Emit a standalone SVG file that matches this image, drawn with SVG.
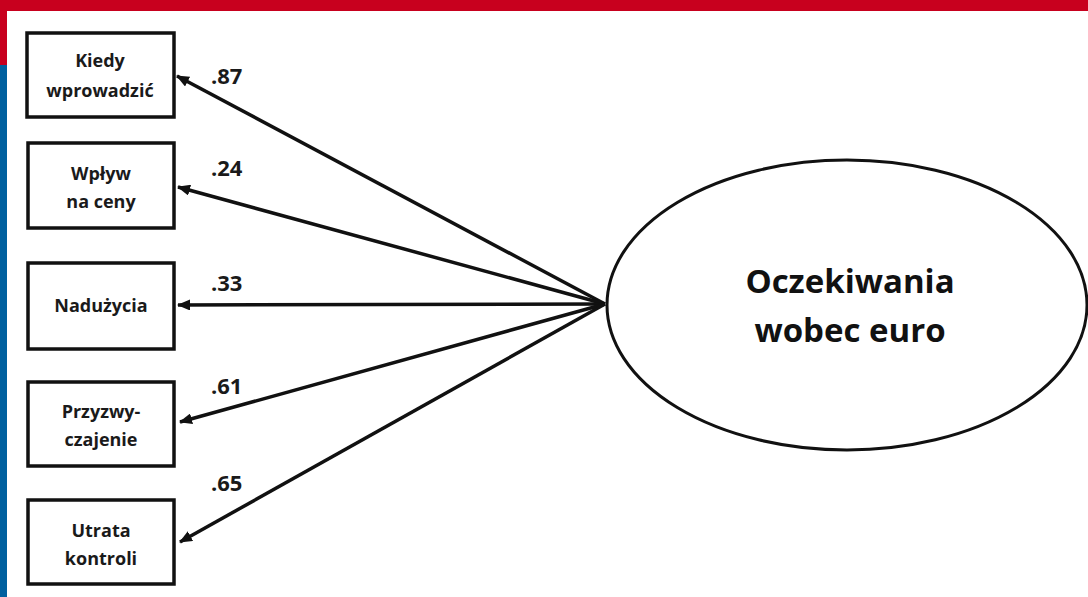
<svg xmlns="http://www.w3.org/2000/svg" width="1088" height="597" viewBox="0 0 1088 597">
<style>
.box{fill:#fff;stroke:#111;stroke-width:3.5}
.t{font-family:"Open Sans","Liberation Sans",sans-serif;font-weight:bold;font-size:18px;fill:#1a1a1a;text-anchor:middle}
.lbl{font-family:"Open Sans","Liberation Sans",sans-serif;font-weight:bold;font-size:22px;fill:#1a1a1a}
.big{font-family:"Open Sans","Liberation Sans",sans-serif;font-weight:bold;font-size:33px;fill:#111;text-anchor:middle}
.c{stroke:#111;stroke-width:3.5;fill:none;marker-end:url(#ah)}
</style>
<defs>
<marker id="ah" markerWidth="13" markerHeight="11" refX="12" refY="5.5" orient="auto" markerUnits="userSpaceOnUse">
<path d="M0,0 L13,5.5 L0,11 Z" fill="#111"/>
</marker>
</defs>
<rect width="1088" height="597" fill="#fff"/>
<rect x="0" y="0" width="1088" height="11" fill="#C8001E"/>
<rect x="0" y="0" width="7" height="65" fill="#C8001E"/>
<rect x="0" y="65" width="7" height="532" fill="#00609F"/>
<g id="connectors">
<line class="c" x1="605" y1="304" x2="177" y2="76"/>
<line class="c" x1="605" y1="304" x2="178" y2="187"/>
<line class="c" x1="605" y1="304" x2="178" y2="305"/>
<line class="c" x1="605" y1="304" x2="180" y2="422"/>
<line class="c" x1="605" y1="304" x2="180" y2="542"/>
</g>
<g id="labels">
<text class="lbl" x="211" y="84">.87</text>
<text class="lbl" x="211" y="176">.24</text>
<text class="lbl" x="211" y="291">.33</text>
<text class="lbl" x="211" y="394">.61</text>
<text class="lbl" x="211" y="491">.65</text>
</g>
<g id="node-kiedy">
<rect class="box" x="27" y="33" width="147" height="84"/>
<text class="t" x="100" y="67">Kiedy</text>
<text class="t" x="100" y="97">wprowadzić</text>
</g>
<g id="node-wplyw">
<rect class="box" x="28" y="143" width="146" height="85"/>
<text class="t" x="101" y="180">Wpływ</text>
<text class="t" x="101" y="208">na ceny</text>
</g>
<g id="node-naduzycia">
<rect class="box" x="28" y="263" width="146" height="86"/>
<text class="t" x="101" y="312">Nadużycia</text>
</g>
<g id="node-przyzwyczajenie">
<rect class="box" x="28" y="382" width="146" height="84"/>
<text class="t" x="101" y="418">Przyzwy-</text>
<text class="t" x="101" y="446">czajenie</text>
</g>
<g id="node-utrata">
<rect class="box" x="28" y="500" width="146" height="84"/>
<text class="t" x="101" y="537">Utrata</text>
<text class="t" x="101" y="565">kontroli</text>
</g>
<g id="node-oczekiwania">
<ellipse cx="847" cy="305" rx="240" ry="145" fill="#fff" stroke="#111" stroke-width="3"/>
<text class="big" x="850" y="293">Oczekiwania</text>
<text class="big" x="850" y="342">wobec euro</text>
</g>
</svg>
